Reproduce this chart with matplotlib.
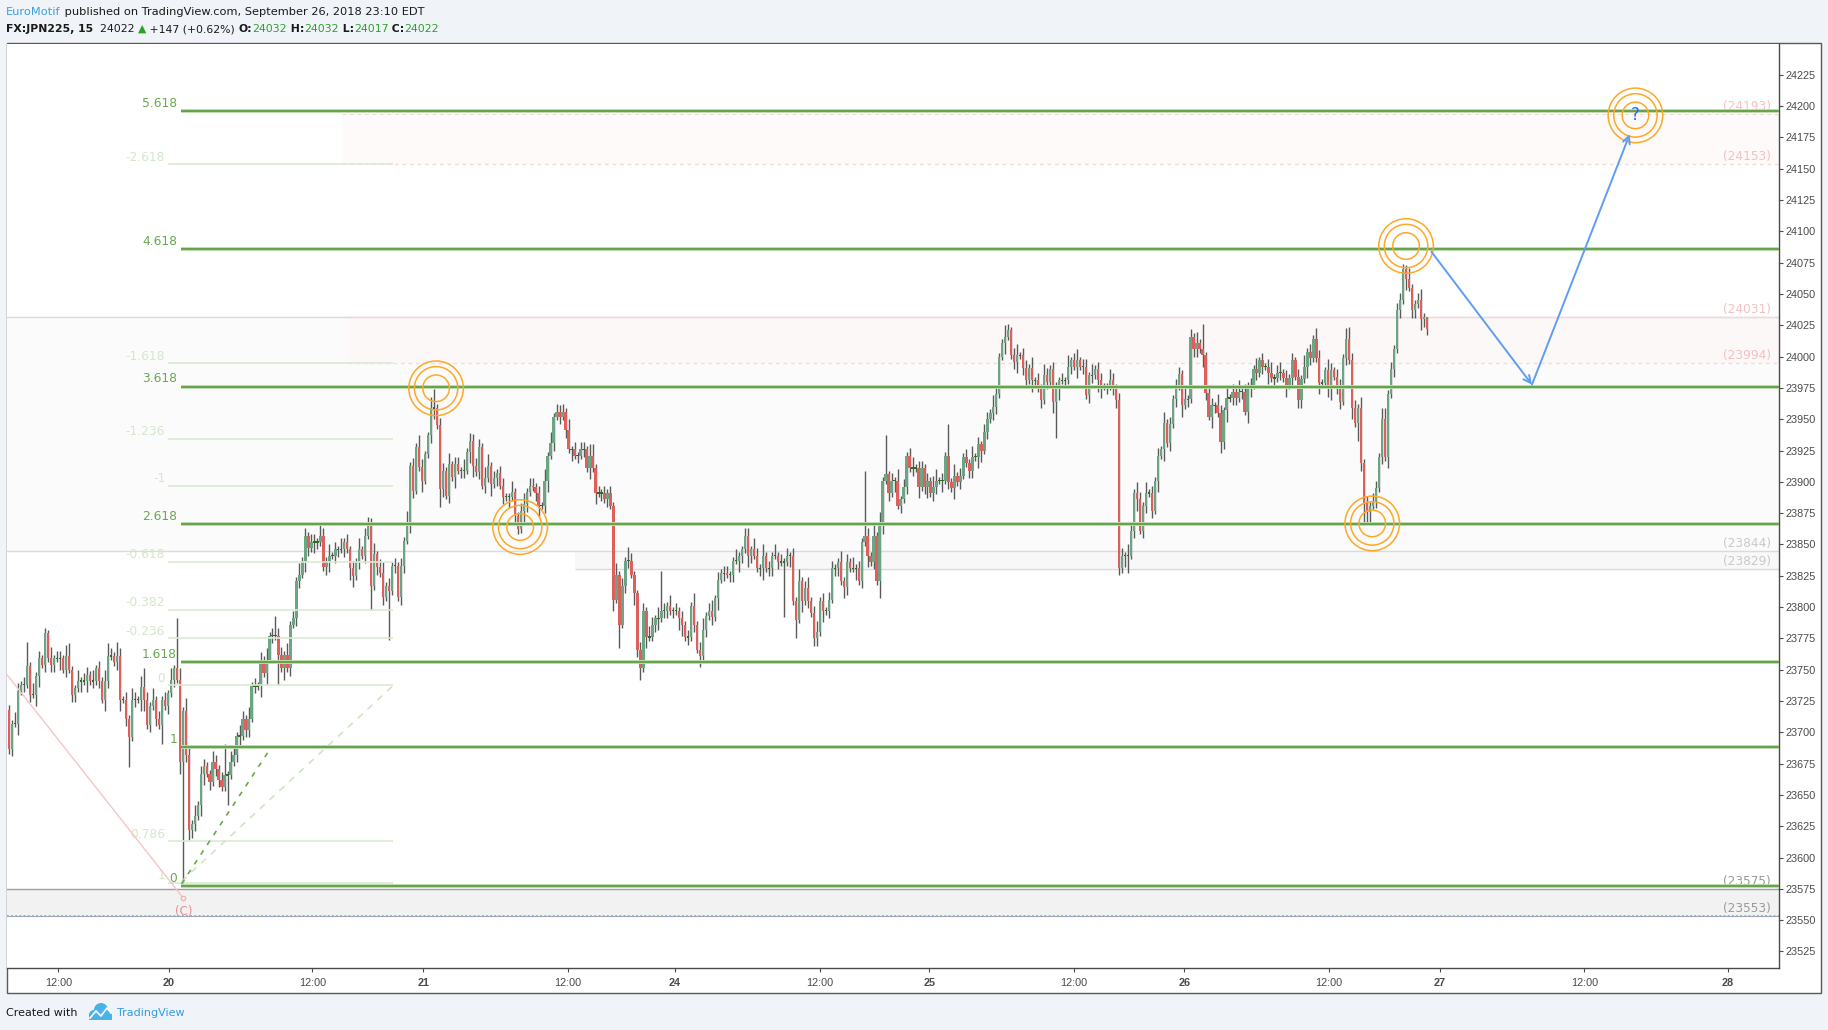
import matplotlib.pyplot as plt
from matplotlib.patches import Rectangle, Ellipse

W, H = 1828, 1030

# ---- data: FX:JPN225 15 min candles (open = previous close) ----
first_open = 23718
closes = [
    23687, 23707, 23707, 23733, 23738, 23738, 23753, 23730, 23730, 23745,
    23759, 23754, 23779, 23759, 23754, 23759, 23759, 23759, 23750, 23761,
    23750, 23730, 23735, 23741, 23741, 23741, 23746, 23741, 23741, 23751,
    23741, 23726, 23741, 23761, 23761, 23756, 23761, 23726, 23726, 23711,
    23696, 23726, 23726, 23726, 23736, 23726, 23706, 23721, 23726, 23711,
    23706, 23726, 23721, 23731, 23742, 23751, 23742, 23676, 23717,
    23682, 23622, 23627, 23633, 23642, 23667, 23673, 23667, 23660, 23676,
    23671, 23662, 23656, 23666, 23666, 23676, 23682, 23697, 23697, 23711,
    23702, 23711, 23737, 23737, 23737, 23758, 23747, 23758, 23777, 23777,
    23777, 23762, 23751, 23762, 23751, 23786, 23791, 23821, 23826, 23837,
    23857, 23847, 23852, 23852, 23852, 23857, 23832, 23837, 23841, 23841,
    23846, 23846, 23846, 23852, 23846, 23831, 23825, 23836, 23846, 23841,
    23857, 23865, 23817, 23842, 23832, 23827, 23808, 23817, 23813, 23833,
    23833, 23808, 23833, 23853,
    23868, 23913, 23893, 23928, 23912, 23901, 23922, 23937, 23959, 23959,
    23945, 23894, 23909, 23889, 23914, 23904, 23914, 23909, 23909, 23909,
    23924, 23933, 23913, 23908, 23928, 23897, 23903, 23913, 23898, 23903,
    23907, 23897, 23888, 23888, 23888, 23892, 23873, 23862, 23877, 23882,
    23892, 23897, 23896, 23891, 23881, 23881, 23901, 23921, 23931, 23952,
    23956, 23952, 23956, 23941, 23926, 23926, 23921, 23921, 23926, 23926,
    23911, 23921, 23911, 23891, 23891, 23891, 23886, 23891, 23881, 23806,
    23826, 23786, 23817, 23837, 23837, 23826, 23811,
    23766, 23751, 23797, 23776, 23776, 23786, 23791, 23791, 23797, 23797,
    23801, 23797, 23797, 23797, 23791, 23786, 23776, 23776, 23801, 23786,
    23766, 23761, 23782, 23793, 23797, 23792, 23807, 23822, 23827, 23827,
    23826, 23826, 23837, 23837, 23841, 23846, 23857, 23841, 23846, 23841,
    23831, 23831, 23841, 23831, 23831, 23841, 23841, 23836, 23836, 23836,
    23841, 23841, 23805, 23790, 23821, 23805, 23815, 23805, 23795, 23775,
    23780, 23805, 23797, 23797, 23806, 23831, 23831, 23836, 23821, 23816,
    23836, 23831, 23831, 23831, 23821, 23852, 23857, 23841, 23836, 23857,
    23821, 23867, 23901, 23906, 23891, 23901, 23901, 23881, 23886, 23896,
    23921, 23911, 23911, 23911, 23896, 23911, 23896, 23901, 23891, 23896,
    23901, 23901, 23901, 23921, 23900, 23895, 23905, 23900, 23905, 23920,
    23915, 23909, 23920, 23920, 23930, 23925, 23940, 23950, 23955, 23960,
    23970, 24000, 24011, 24016, 24021, 24001, 23996, 24001, 24001, 23991,
    23981, 23991, 23981, 23981, 23975, 23965, 23985, 23980, 23990, 23964,
    23974, 23981, 23981, 23981, 23992, 23997, 23992, 23997, 23992, 23992,
    23969, 23985, 23985, 23990, 23981, 23976, 23976, 23976, 23981, 23975,
    23965,
    23831, 23841, 23841, 23841, 23861, 23891, 23886, 23861, 23881, 23891,
    23891, 23877, 23901, 23921, 23926, 23947, 23931, 23946, 23966, 23976,
    23986, 23961, 23966, 23966, 24016, 24006, 24011, 24006, 24001, 23971,
    23952, 23961, 23961, 23955, 23932, 23957, 23967, 23967, 23972, 23967,
    23972, 23972, 23956, 23977, 23977, 23990, 23987, 23997, 23992, 23992,
    23987, 23983, 23983, 23987, 23987, 23983, 23977, 23983, 23997, 23984,
    23965, 23982, 23992, 24004, 23999, 24014, 23999, 23979, 23979, 23989,
    23974, 23989, 23984, 23976, 23964, 23999, 24014, 23997, 23959, 23947,
    23959, 23915, 23883, 23876, 23881, 23885, 23895, 23920, 23950, 23920,
    23970, 23990, 24006, 24037, 24045, 24070, 24062, 24055, 24037, 24042,
    24045, 24030, 24032, 24022,
]

# wick lengths beyond the body, one digit per bar (x3 points)
UP_WICK = """
21321 23131 21213 12213 21131 22131 21312 13212 13213 12131
21213 12312 21312 21132 12213 21321 31212 13121 22131 21312
12213 21312 13121 21312 12312 31212 12131 21321 13212 21312
21312 12213 31212 21131 12312 21213 13121 21312 12213 31212
12131 21321 12213 21312 13121 21213 12312 31212 21131 12213
21312 13121 21213 12312 31212 21131 21312 12213 13121 21312
12312 21213 31212 13121 21312 12213 21131 12312 21312 13212
21213 12312 21312 21132 12213 21321 31212 13121 22131 21312
12213 21312 13121 21312 12312 31212 12131 21321 13212 21312
21312 12213 31212 21131 12312
"""
DN_WICK = """
12131 21213 31212 21312 12213 13121 21321 12312 21213 31212
13121 21312 12213 31212 21131 12312 21213 13121 21312 12213
21321 12312 21213 31212 13121 21312 12213 21131 12312 21213
12213 31212 13121 21312 21321 12312 31212 12131 21213 13121
21312 12213 21131 12312 21213 31212 13121 21312 12213 21321
12312 21213 13121 31212 21312 12213 21131 21312 12312 13121
21213 12312 21312 13121 12213 31212 21131 12312 21321 21213
13121 21312 12213 31212 21131 12312 21213 13121 21312 12213
21321 12312 21213 31212 13121 21312 12213 21131 12312 21213
12213 31212 13121 21312 21321
"""
# long wicks
HIGH_AT = {0: 23722, 6: 23772, 12: 23783, 20: 23771, 33: 23771, 36: 23772,
           45: 23751, 56: 23791, 59: 23727, 72: 23691, 89: 23793, 120: 23872,
           142: 23974, 155: 23938, 184: 23961, 207: 23848, 218: 23829,
           229: 23811, 286: 23909, 293: 23937, 314: 23946, 334: 24026,
           399: 24026, 448: 24024, 466: 24074, 474: 24032}
LOW_AT = {0: 23683, 40: 23672, 51: 23691, 58: 23578, 60: 23614, 73: 23642,
          90: 23738, 121: 23798, 127: 23774, 144: 23880, 170: 23858,
          204: 23767, 211: 23742, 259: 23792, 263: 23775, 291: 23807,
          350: 23935, 371: 23826, 372: 23827, 374: 23827, 405: 23923,
          451: 23933, 453: 23867, 474: 24017}

x_ticks = [16.4, 53.4, 101.3, 138.4, 186.7, 222.6, 270.9, 307.6, 355.9,
           392.9, 441.2, 478.3, 526.6, 574.5]
x_labels = ['12:00', '20', '12:00', '21', '12:00', '24', '12:00', '25',
            '12:00', '26', '12:00', '27', '12:00', '28']

# fib extension (bold green) and fib retracement (faint)
ext_levels = ['5.618', '4.618', '3.618', '2.618', '1.618', '1', '0']
ext_prices = [24196, 24086, 23976, 23866, 23756, 23688, 23577]
ret_levels = ['-2.618', '-1.618', '-1.236', '-1', '-0.618', '-0.382',
              '-0.236', '0', '0.786', '1']
ret_prices = [24153.5, 23994.5, 23934, 23896.5, 23836, 23798, 23775,
              23737.5, 23613, 23579.5]

zone_labels = ['(24193)', '(24153)', '(24031)', '(23994)', '(23844)',
               '(23829)', '(23575)', '(23553)']
zone_prices = [24193.5, 24153.5, 24031.8, 23995, 23844.4, 23830, 23575, 23553]

# target rings (bar, price) and projected path
ring_bars = [142.7, 170.8, 467.0, 455.7, 543.7]
ring_prices = [23974.7, 23863.9, 24088.3, 23866.8, 24192.6]
path_bars = [475.5, 509.1, 541.8]
path_prices = [24083.7, 23977.6, 24177.6]

N = len(closes)
opens = [first_open] + closes[:-1]
up = [int(c) * 3 for c in "".join(UP_WICK.split())]
dn = [int(c) * 3 for c in "".join(DN_WICK.split())]
highs, lows = [], []
for i in range(N):
    top, bot = max(opens[i], closes[i]), min(opens[i], closes[i])
    highs.append(max(HIGH_AT.get(i, top + up[i]), top))
    lows.append(min(LOW_AT.get(i, bot - dn[i]), bot))

XMIN, XMAX = -0.77, 591.7

fig = plt.figure(figsize=(W / 100, H / 100), dpi=100, facecolor='#f0f3f7')
fig.patches.append(Rectangle((7 / W, 1 - 993 / H), 1814 / W, 950 / H,
                             transform=fig.transFigure, facecolor='white',
                             edgecolor='#5a5a5a', lw=1.0, zorder=-5))
ax = fig.add_axes([7 / W, 1 - 968 / H, 1772 / W, 924 / H])
ax.set_xlim(XMIN, XMAX)
ax.set_ylim(23511.8, 24249.6)

# zones
ax.axhspan(zone_prices[4], zone_prices[2], color='#fbfbfb', zorder=0.5, lw=0)
ax.axhline(zone_prices[2], color='#dadada', lw=1, zorder=0.8)
ax.axhline(zone_prices[4], color='#dadada', lw=1, zorder=0.8)
ax.fill_between([111.1, XMAX], zone_prices[1], zone_prices[0], color='#fefafa', lw=0, zorder=0.6)
ax.hlines([zone_prices[0], zone_prices[1]], 111.1, XMAX, color='#f8d6d6', lw=0.9,
          linestyles=(0, (3, 3)), zorder=0.8)
ax.fill_between([113.2, XMAX], zone_prices[3], zone_prices[2], color='#fdf8f8', lw=0, zorder=0.6)
ax.hlines(zone_prices[2], 113.2, XMAX, color='#f3d8da', lw=1, zorder=0.85)
ax.hlines(zone_prices[3], 113.2, XMAX, color='#f8d6d6', lw=0.9,
          linestyles=(0, (3, 3)), zorder=0.8)
ax.fill_between([189.1, XMAX], zone_prices[5], zone_prices[4], color='#f8f8f8', lw=0, zorder=0.6)
ax.hlines(zone_prices[5], 189.1, XMAX, color='#dadada', lw=1, zorder=0.8)
ax.axhspan(zone_prices[7], zone_prices[6], color='#f2f2f2', zorder=0.5, lw=0)
ax.axhline(zone_prices[6], color='#9e9e9e', lw=1, zorder=0.8)
ax.axhline(zone_prices[7], color='#a8a8a8', lw=0.8, zorder=0.8)
ax.axhline(zone_prices[7], color='#7ea6e6', lw=1.2, ls=(0, (1, 1.5)), zorder=0.9)

zone_colors = ['#f4c0c0', '#f4c0c0', '#f4c0c0', '#f4c0c0', '#c9c9c9',
               '#c9c9c9', '#9a9a9a', '#9a9a9a']
for lab, p, c in zip(zone_labels, zone_prices, zone_colors):
    ax.text(589.0, p + 0.8, lab, ha='right', va='bottom', fontsize=8.7,
            color=c, zorder=2)

# candles
xs = list(range(N))
ax.vlines(xs, lows, highs, color='#5a5a5a', lw=1, zorder=3)
for i in range(N):
    o, c = opens[i], closes[i]
    if c == o:
        ax.bar(i, 1.0, bottom=c - 0.5, width=0.8, color='#2f6b22', lw=0, zorder=4)
    else:
        ax.bar(i, abs(c - o), bottom=min(o, c), width=0.8,
               color='#6ba583' if c > o else '#df5f5c', lw=0, zorder=4)

# faint retracement
ax.hlines(ret_prices, 53.2, 128.4, color='#d9ead2', lw=1.2, zorder=4.5)
for lab, p in zip(ret_levels, ret_prices):
    ax.text(52.1, p + 0.6, lab, ha='right', va='bottom', fontsize=8.8,
            color='#d3e7ca', zorder=4.6)
ax.plot([57.6, 128.4], [23581, 23737.5], color='#cfe5c4', lw=1.2,
        ls=(0, (4, 4)), zorder=4.6)
ax.plot([57.6, 86.6], [23579, 23684.5], color='#6aa84f', lw=1.2,
        ls=(0, (3, 4)), zorder=4.6)
ax.plot([-0.67, 58.2], [23745.7, 23567.5], color='#f6c5c5', lw=1, zorder=4.6)
ax.plot([58.2], [23567.5], marker='o', ms=3, mfc='white', mec='#f2b0b0', zorder=4.7)
ax.text(58.2, 23557.3, '(C)', ha='center', va='center', fontsize=8.5,
        color='#ec8f8f', zorder=5)

# fib extension
ax.hlines(ext_prices, 57.3, XMAX, color='#bddcae', lw=2.8, zorder=5)
ax.hlines(ext_prices, 57.3, XMAX, color='#64a24a', lw=1.4, zorder=5.1)
for lab, p in zip(ext_levels, ext_prices):
    ax.text(56.1, p + 1.0, lab, ha='right', va='bottom', fontsize=8.8,
            color='#6aa84f', zorder=5.2)

# rings
for r in (13.3, 21.7, 27.3):
    s = (2 * r * 0.72) ** 2
    ax.scatter(ring_bars, ring_prices, s=s, facecolors='none',
               edgecolors='#ffa726', linewidths=1.1, zorder=6)
ax.text(ring_bars[-1], ring_prices[-1], '?', ha='center', va='center',
        fontsize=12, color='#2962ff', zorder=7)

# projected path
for a, b in ((0, 1), (1, 2)):
    ax.annotate('', xy=(path_bars[b], path_prices[b]),
                xytext=(path_bars[a], path_prices[a]),
                arrowprops=dict(arrowstyle='->', color='#5f9df2', lw=1.4,
                                mutation_scale=13, shrinkA=0, shrinkB=0),
                zorder=6)

# axes styling
ax.spines['top'].set_visible(False)
ax.spines['left'].set_visible(False)
for s in ('right', 'bottom'):
    ax.spines[s].set_color('#4a4a4a')
    ax.spines[s].set_linewidth(1)
ax.yaxis.tick_right()
ax.set_yticks(list(range(23525, 24226, 25)))
ax.set_xticks(x_ticks)
ax.set_xticklabels(x_labels)
ax.tick_params(axis='y', direction='out', length=3, width=0.8, color='#4a4a4a',
               labelsize=7.8, labelcolor='#4a4a4a', pad=2,
               labelfontfamily='Liberation Sans')
ax.tick_params(axis='x', direction='out', length=3, width=0.8, color='#4a4a4a',
               labelsize=7.8, labelcolor='#4a4a4a', pad=4,
               labelfontfamily='Liberation Sans')
for t in ax.get_xticklabels():
    if t.get_text() != '12:00':
        t.set_fontweight('bold')

# header / footer overlay in pixel coordinates
ov = fig.add_axes([0, 0, 1, 1], zorder=10)
ov.set_xlim(0, W)
ov.set_ylim(H, 0)
ov.axis('off')
ov.patch.set_alpha(0)


def chain(prev, s, size=8, **kw):
    return ov.annotate(s, xy=(1, 0.5), xycoords=prev, va='center', ha='left',
                       fontsize=size, **kw)


t = ov.text(6, 12, 'EuroMotif', va='center', ha='left', fontsize=8.2, color='#3d9fe6')
chain(t, ' published on TradingView.com, September 26, 2018 23:10 EDT', size=8.2,
      color='#1a1a1a')

green = '#2aa22a'
t = ov.text(6, 29, 'FX:JPN225, 15', va='center', ha='left', fontsize=7.8,
            fontweight='bold', color='#1a1a1a')
t = chain(t, '  24022 ', size=7.8, color='#1a1a1a')
t = chain(t, '▲', size=7.8, color=green)
t = chain(t, ' +147 (+0.62%) ', size=7.8, color='#1a1a1a')
for k, v in (('O:', '24032'), (' H:', '24032'), (' L:', '24017'), (' C:', '24022')):
    t = chain(t, k, size=7.8, color='#1a1a1a', fontweight='bold')
    t = chain(t, v, size=7.8, color=green)

ov.text(6, 1013, 'Created with', va='center', ha='left', fontsize=8, color='#1a1a1a')
for cx, cy, r in ((94, 1015, 5), (101, 1010, 7), (107, 1015, 5)):
    ov.add_patch(Ellipse((cx, cy), 2 * r, 2 * r, color='#49b3e8', lw=0))
ov.add_patch(Rectangle((89, 1014), 23, 6, color='#49b3e8', lw=0))
ov.plot([90, 96, 101, 107, 111], [1018, 1011, 1016, 1008, 1013], color='white', lw=1.2)
ov.text(117, 1013, 'TradingView', va='center', ha='left', fontsize=8, color='#2e9de6')

fig.savefig('out.png', dpi=100, facecolor=fig.get_facecolor())
